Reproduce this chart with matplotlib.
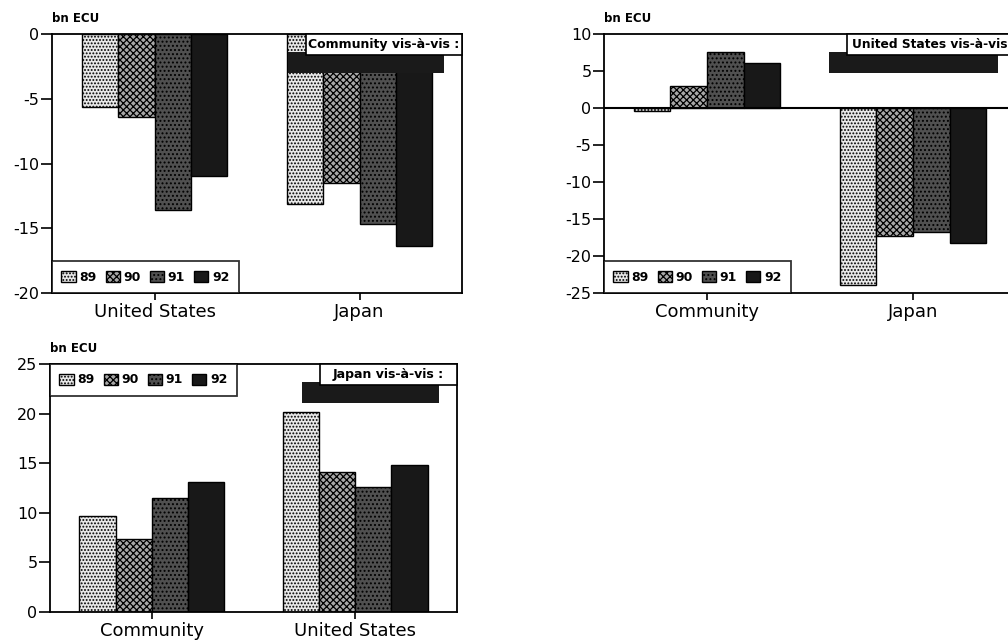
import numpy as np
import matplotlib
matplotlib.use("Agg")
import matplotlib.pyplot as plt
from matplotlib.patches import Rectangle

plt.rcParams['font.family'] = ['DejaVu Sans']
plt.rcParams['axes.unicode_minus'] = False
plt.rcParams['hatch.linewidth'] = 0.9

# trade balances, bn ECU (rows = years, cols = partners)
years = ['89', '90', '91', '92']

ec_partners = ['United States', 'Japan']
ec_vs = [[-5.6, -13.1],
         [-6.4, -11.5],
         [-13.6, -14.7],
         [-11.0, -16.4]]

us_partners = ['Community', 'Japan']
us_vs = [[-0.4, -23.9],
         [3.0, -17.3],
         [7.5, -16.7],
         [6.1, -18.2]]

jp_partners = ['Community', 'United States']
jp_vs = [[9.7, 20.2],
         [7.4, 14.1],
         [11.5, 12.6],
         [13.1, 14.8]]

fills = ['#e8e8e8', '#a8a8a8', '#505050', '#181818']
hatches = ['.....', 'xxxxx', '....', '']

W, H = 1008, 641
fig = plt.figure(figsize=(W / 100, H / 100), dpi=100)


def make_ax(x0, y0, x1, y1):
    return fig.add_axes([x0 / W, 1 - y1 / H, (x1 - x0) / W, (y1 - y0) / H])


def draw_chart(ax, partners, vals, ylim, yticks, box_text, box_px, ax_px, legend_loc, text_left=False):
    x = np.arange(len(partners))
    bw = 0.178
    for i, yr in enumerate(years):
        ax.bar(x + (i - 1.5) * bw, vals[i], bw, color=fills[i], hatch=hatches[i],
               edgecolor='black', linewidth=1.0, label=yr, zorder=2)
    ax.set_xlim(-0.5, len(partners) - 0.5)
    ax.set_ylim(*ylim)
    ax.set_yticks(yticks)
    ax.set_yticklabels([str(t) for t in yticks])
    ax.set_xticks(x)
    ax.set_xticklabels(partners, fontsize=13)
    ax.tick_params(axis='y', direction='out', length=8, width=1.2, pad=1, labelsize=11.5)
    ax.tick_params(axis='x', direction='out', length=5, width=1.2, pad=2)
    for s in ax.spines.values():
        s.set_linewidth(1.3)
    if ylim[0] < 0 < ylim[1]:
        ax.axhline(0, color='black', lw=1.5, zorder=3)
    ax.text(0.0, 1.035, 'bn ECU', transform=ax.transAxes, fontsize=8.5, fontweight='bold',
            ha='left', va='bottom')

    leg = ax.legend(loc=legend_loc, ncol=4, frameon=True, fancybox=False, borderaxespad=0,
                    prop={'size': 9, 'weight': 'bold'}, handlelength=1.15, handleheight=1.0,
                    handletextpad=0.3, columnspacing=0.7, borderpad=0.75)
    leg.get_frame().set_edgecolor('black')
    leg.get_frame().set_linewidth(1.3)

    # label box with a drop shadow, top-right corner
    aw, ah = ax_px
    bwid, bh, right = box_px
    bx = right / aw - bwid / aw
    by = 1 - bh / ah
    dx, dy = -18 / aw, -18 / ah
    ax.add_patch(Rectangle((bx + dx, by + dy), bwid / aw, bh / ah, transform=ax.transAxes,
                           facecolor='#1a1a1a', edgecolor='none', zorder=6, clip_on=False))
    ax.add_patch(Rectangle((bx, by), bwid / aw, bh / ah, transform=ax.transAxes,
                           facecolor='white', edgecolor='black', lw=1.2, zorder=7, clip_on=False))
    if text_left:
        ax.text(bx + 5 / aw, by + bh / ah / 2, box_text, transform=ax.transAxes, ha='left',
                va='center', fontsize=8.8, fontweight='bold', zorder=8)
    else:
        ax.text(bx + bwid / aw / 2, by + bh / ah / 2, box_text, transform=ax.transAxes,
                ha='center', va='center', fontsize=9, fontweight='bold', zorder=8)


ax1 = make_ax(52, 34, 462, 293)
draw_chart(ax1, ec_partners, ec_vs, (-20, 0), [0, -5, -10, -15, -20],
           'Community vis-à-vis :', (156, 21, 410), (410, 259), 'lower left')

ax2 = make_ax(604, 34, 1016, 293)
draw_chart(ax2, us_partners, us_vs, (-25, 10), [10, 5, 0, -5, -10, -15, -20, -25],
           'United States vis-à-vis', (169, 21, 412), (412, 259), 'lower left', text_left=True)

ax3 = make_ax(50, 364, 457, 612)
draw_chart(ax3, jp_partners, jp_vs, (0, 25), [0, 5, 10, 15, 20, 25],
           'Japan vis-à-vis :', (137, 21, 407), (407, 248), 'upper left')

fig.savefig('out.png', dpi=100)
